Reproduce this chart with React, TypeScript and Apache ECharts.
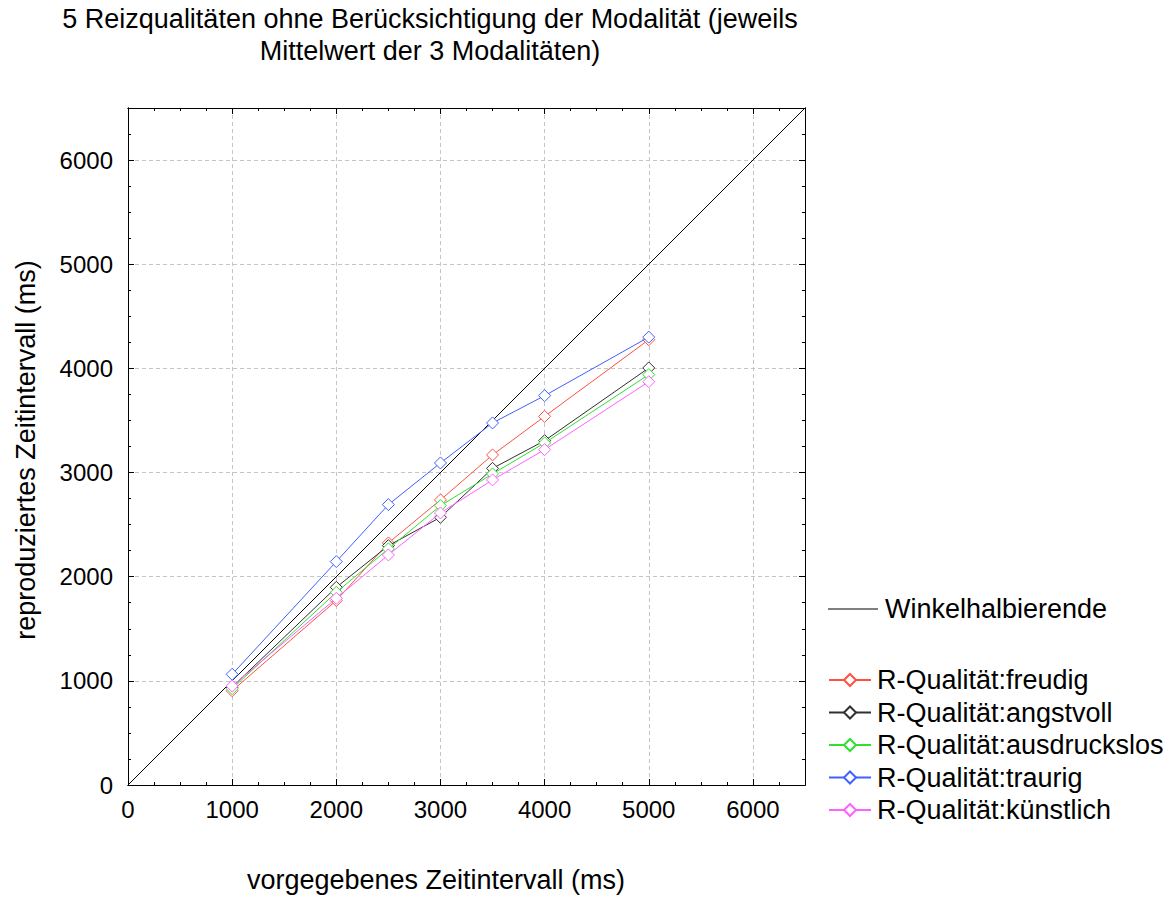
import React, { useEffect, useRef } from "react";
import * as echarts from "echarts";

const xValues = [1000, 2000, 2500, 3000, 3500, 4000, 5000];
const freudig = [905, 1771, 2324, 2737, 3169, 3539, 4275];
const angstvoll = [940, 1898, 2298, 2570, 3040, 3306, 4004];
const ausdruckslos = [925, 1850, 2267, 2682, 2987, 3284, 3940];
const traurig = [1063, 2145, 2692, 3092, 3476, 3738, 4300];
const kuenstlich = [950, 1793, 2209, 2612, 2929, 3220, 3872];
const diagonal = [0, 6500];

const seriesNames = [
  "R-Qualität:freudig",
  "R-Qualität:angstvoll",
  "R-Qualität:ausdruckslos",
  "R-Qualität:traurig",
  "R-Qualität:künstlich",
];
const seriesColors = ["#ff5040", "#303030", "#30e030", "#4060ff", "#ff60ff"];
const seriesData = [freudig, angstvoll, ausdruckslos, traurig, kuenstlich];

const titleText =
  "5 Reizqualitäten ohne Berücksichtigung der Modalität (jeweils\nMittelwert der 3 Modalitäten)";
const xName = "vorgegebenes Zeitintervall (ms)";
const yName = "reproduziertes Zeitintervall (ms)";
const diagName = "Winkelhalbierende";

const FONT = "Liberation Sans, Arial, sans-serif";

function mkAxis(position: string, interval: number, tickLen: number, labels: boolean, split: boolean) {
  return {
    type: "value",
    min: 0,
    max: 6500,
    interval,
    position,
    axisLine: { show: true, onZero: false, lineStyle: { color: "#000", width: 1 } },
    axisTick: { show: true, inside: true, length: tickLen, lineStyle: { color: "#000", width: 1 } },
    axisLabel: {
      show: labels,
      showMaxLabel: false,
      fontSize: 24,
      color: "#000",
      margin: position === "left" ? 15 : 12,
      fontFamily: FONT,
      formatter: (v: number) => String(v),
    },
    splitLine: { show: split, lineStyle: { color: "#c4c4c4", type: [4, 3], width: 1 } },
  };
}

export default function App() {
  const ref = useRef<HTMLDivElement>(null);
  useEffect(() => {
    document.body.style.margin = "0";
    const chart = echarts.init(ref.current!, null, { renderer: "svg" });
    const lineSeries = seriesNames.map((name, i) => ({
      name,
      type: "line",
      xAxisIndex: 0,
      yAxisIndex: 0,
      data: xValues.map((x, j) => [x, seriesData[i][j]]),
      symbol: "diamond",
      symbolSize: 12,
      showSymbol: true,
      lineStyle: { color: seriesColors[i], width: 1 },
      itemStyle: { color: "#fff", borderColor: seriesColors[i], borderWidth: 1 },
      z: 3 + i,
    }));
    chart.setOption({
      animation: false,
      textStyle: { fontFamily: FONT },
      grid: { left: 128, top: 108, width: 677, height: 677, show: false },
      xAxis: [
        mkAxis("bottom", 1000, 6, true, true),
        mkAxis("bottom", 250, 3, false, false),
        mkAxis("top", 1000, 6, false, false),
        mkAxis("top", 250, 3, false, false),
      ],
      yAxis: [
        mkAxis("left", 1000, 6, true, true),
        mkAxis("left", 250, 3, false, false),
        mkAxis("right", 1000, 6, false, false),
        mkAxis("right", 250, 3, false, false),
      ],
      legend: [
        {
          data: [{ name: diagName, icon: "rect" }],
          left: 828,
          top: 595,
          padding: 0,
          itemWidth: 50,
          itemHeight: 1,
          textStyle: { fontSize: 27, color: "#000", fontFamily: FONT, lineHeight: 28, padding: [0, 0, 0, 2] },
          selectedMode: false,
        },
        {
          data: seriesNames,
          orient: "vertical",
          left: 828,
          top: 666,
          padding: 0,
          itemWidth: 42,
          itemHeight: 15,
          itemGap: 4.5,
          textStyle: { fontSize: 27, color: "#000", fontFamily: FONT, lineHeight: 28, padding: [0, 0, 0, 1] },
          selectedMode: false,
        },
      ],
      graphic: [
        {
          type: "text",
          x: 430,
          y: 3,
          style: {
            text: titleText,
            fontSize: 27,
            lineHeight: 32,
            fill: "#000",
            textAlign: "center",
            textVerticalAlign: "top",
            fontFamily: FONT,
          },
        },
        {
          type: "text",
          x: 436,
          y: 880,
          style: {
            text: xName,
            fontSize: 27,
            fill: "#000",
            textAlign: "center",
            textVerticalAlign: "middle",
            fontFamily: FONT,
          },
        },
        {
          type: "text",
          x: 26,
          y: 450,
          rotation: Math.PI / 2,
          style: {
            text: yName,
            fontSize: 27,
            fill: "#000",
            textAlign: "center",
            textVerticalAlign: "middle",
            fontFamily: FONT,
          },
        },
      ],
      series: [
        {
          name: diagName,
          type: "line",
          xAxisIndex: 0,
          yAxisIndex: 0,
          data: diagonal.map((v) => [v, v]),
          symbol: "none",
          lineStyle: { color: "#000", width: 1 },
          itemStyle: { color: "#000" },
          z: 2,
        },
        ...lineSeries,
      ],
    });
    return () => chart.dispose();
  }, []);
  return <div ref={ref} style={{ width: 1173, height: 899 }} />;
}
